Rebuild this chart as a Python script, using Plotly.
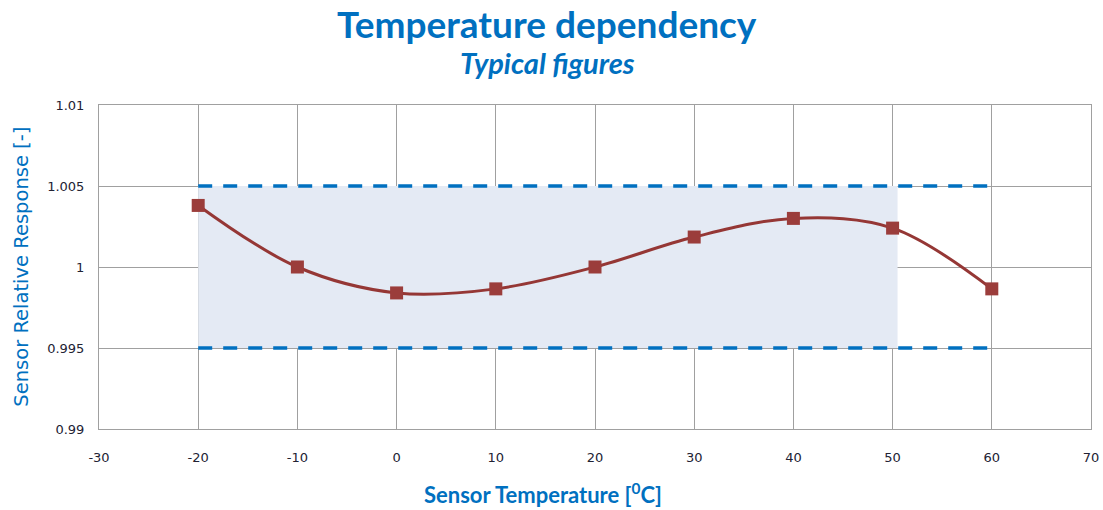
import plotly.graph_objects as go

temps = [-20, -10, 0, 10, 20, 30, 40, 50, 60]
response = [1.0038, 1.0000, 0.9984, 0.99865, 1.0000, 1.00185, 1.0030, 1.0024, 0.99865]

limit_x = [-20, 60]
upper_limit = [1.005, 1.005]
lower_limit = [0.995, 0.995]

band_x = [-20, 50.5, 50.5, -20, -20]
band_y = [0.995, 0.995, 1.005, 1.005, 0.995]

x_ticks = [-30, -20, -10, 0, 10, 20, 30, 40, 50, 60, 70]
x_tick_text = ["-30", "-20", "-10", "0", "10", "20", "30", "40", "50", "60", "70"]
y_ticks = [0.99, 0.995, 1.0, 1.005, 1.01]
y_tick_text = ["0.99", "0.995", "1", "1.005", "1.01"]

BLUE = "#0070C0"
RED = "#953735"
TICK_FONT = dict(family="DejaVu Sans", size=13, color="#222233")

fig = go.Figure()
fig.add_trace(go.Scatter(x=band_x, y=band_y, fill="toself", fillcolor="#E4EAF4",
                         line=dict(width=0), mode="lines", hoverinfo="skip"))
fig.add_trace(go.Scatter(x=limit_x, y=upper_limit, mode="lines",
                         line=dict(color=BLUE, width=3.5, dash="14px,11px")))
fig.add_trace(go.Scatter(x=limit_x, y=lower_limit, mode="lines",
                         line=dict(color=BLUE, width=3.5, dash="14px,11px")))
fig.add_trace(go.Scatter(x=temps, y=response, mode="lines+markers",
                         line=dict(color=RED, width=3, shape="spline", smoothing=1),
                         marker=dict(symbol="square", size=13, color="#9B3D3B")))

fig.update_layout(
    width=1103, height=510,
    paper_bgcolor="white", plot_bgcolor="white",
    showlegend=False,
    margin=dict(l=99, r=12, t=105, b=81, autoexpand=False),
    xaxis=dict(
        range=[-30, 70], tickvals=x_ticks, ticktext=x_tick_text, showgrid=True,
        gridcolor="#A0A0A0", gridwidth=1, zeroline=False, showline=True,
        linecolor="#A0A0A0", mirror=True, automargin=False,
        tickfont=TICK_FONT, ticklabelstandoff=16, ticklabeloverflow="allow",
    ),
    yaxis=dict(
        range=[0.99, 1.01], tickvals=y_ticks, ticktext=y_tick_text, showgrid=True,
        gridcolor="#A0A0A0", gridwidth=1, zeroline=False, showline=True,
        linecolor="#A0A0A0", mirror=True, automargin=False,
        tickfont=TICK_FONT, ticklabelstandoff=11,
    ),
    annotations=[
        dict(text="<b>Temperature dependency</b>", xref="paper", yref="paper",
             x=0.452, y=1.253, xanchor="center", yanchor="middle", showarrow=False,
             font=dict(family="Lato", size=37, color=BLUE)),
        dict(text="<b><i>Typical figures</i></b>", xref="paper", yref="paper",
             x=0.452, y=1.13, xanchor="center", yanchor="middle", showarrow=False,
             font=dict(family="Lato", size=29, color=BLUE)),
        dict(text="<b>Sensor Temperature [<sup>0</sup>C]</b>", xref="paper", yref="paper",
             x=0.448, y=-0.2, xanchor="center", yanchor="middle", showarrow=False,
             font=dict(family="Lato", size=22, color=BLUE)),
        dict(text="Sensor Relative Response [-]", xref="paper", yref="paper",
             x=-0.079, y=0.5, xanchor="center", yanchor="middle", showarrow=False,
             textangle=-90, font=dict(family="DejaVu Sans", size=19.5, color=BLUE)),
    ],
)

fig.write_html(
    "out.html",
    config={"displayModeBar": False},
    post_script="document.body.style.margin='0';document.body.style.overflow='hidden';",
)
